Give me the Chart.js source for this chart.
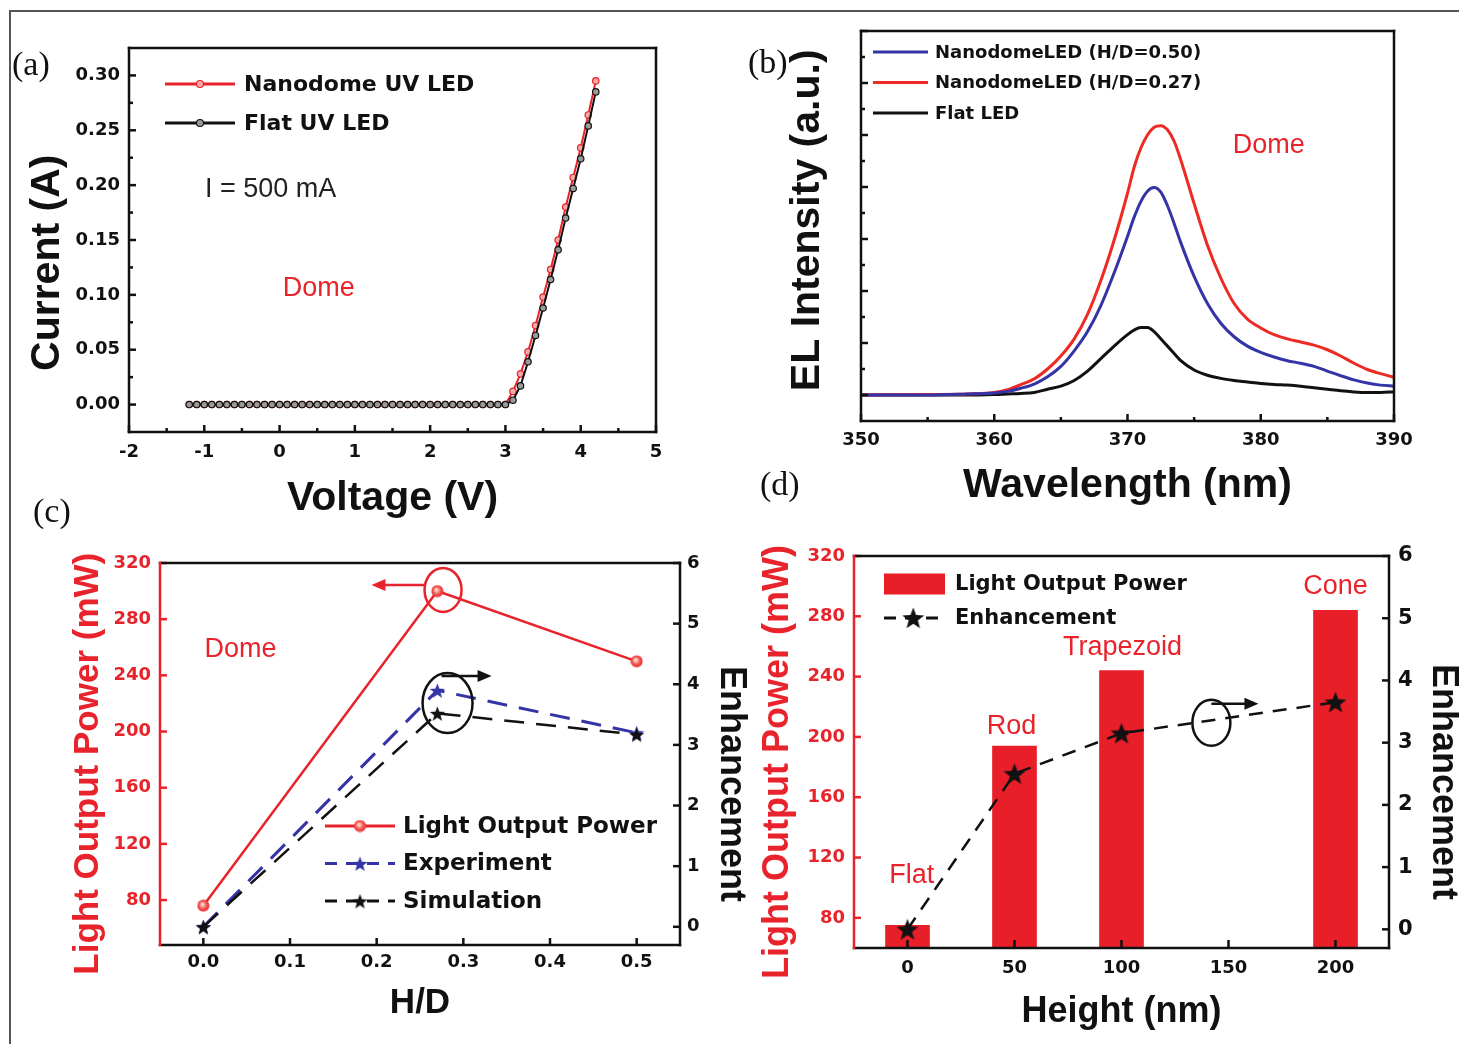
<!DOCTYPE html>
<html>
<head>
<meta charset="utf-8">
<script src="https://cdn.jsdelivr.net/npm/chart.js@4.4.1/dist/chart.umd.min.js"></script>
<style>
  html, body { margin: 0; padding: 0; background: #fff; overflow: hidden; }
  body { width: 1459px; height: 1044px; position: relative; }
  canvas { position: absolute; }
  .border { position: absolute; left: 9px; top: 10px; width: 1460px; height: 1040px; border-top: 2px solid #555; border-left: 2px solid #555; }
  .tag { position: absolute; font-family: 'Liberation Serif', serif; font-size: 34px; line-height: 34px; color: #111; }
</style>
</head>
<body>
<div class="border"></div>
<canvas id="chartA" width="700" height="510" style="left:10px;top:11px"></canvas>
<canvas id="chartB" width="729" height="510" style="left:730px;top:11px"></canvas>
<canvas id="chartC" width="740" height="519" style="left:10px;top:525px"></canvas>
<canvas id="chartD" width="709" height="519" style="left:750px;top:525px"></canvas>
<div class="tag" style="left:12px;top:47px">(a)</div>
<div class="tag" style="left:748px;top:45px">(b)</div>
<div class="tag" style="left:33px;top:494px">(c)</div>
<div class="tag" style="left:760px;top:467px">(d)</div>
<script>
// (a) I-V curves
const volts = [-1.2, -1.1, -1.0, -0.9, -0.8, -0.7, -0.6, -0.5, -0.4, -0.3, -0.2, -0.1, 0, 0.1, 0.2, 0.3, 0.4, 0.5, 0.6, 0.7, 0.8, 0.9,
  1.0, 1.1, 1.2, 1.3, 1.4, 1.5, 1.6, 1.7, 1.8, 1.9, 2.0, 2.1, 2.2, 2.3, 2.4, 2.5, 2.6, 2.7, 2.8, 2.9, 3.0,
  3.1, 3.2, 3.3, 3.4, 3.5, 3.6, 3.7, 3.8, 3.9, 4.0, 4.1, 4.2];
const currentDome = [0, 0, 0, 0, 0, 0, 0, 0, 0, 0, 0, 0, 0, 0, 0, 0, 0, 0, 0, 0, 0, 0,
  0, 0, 0, 0, 0, 0, 0, 0, 0, 0, 0, 0, 0, 0, 0, 0, 0, 0, 0, 0, 0,
  0.012, 0.028, 0.048, 0.072, 0.098, 0.123, 0.150, 0.180, 0.207, 0.234, 0.264, 0.295];
const currentFlat = [0, 0, 0, 0, 0, 0, 0, 0, 0, 0, 0, 0, 0, 0, 0, 0, 0, 0, 0, 0, 0, 0,
  0, 0, 0, 0, 0, 0, 0, 0, 0, 0, 0, 0, 0, 0, 0, 0, 0, 0, 0, 0, 0,
  0.004, 0.017, 0.039, 0.063, 0.088, 0.114, 0.141, 0.170, 0.197, 0.224, 0.254, 0.285];
const aTicksX = [-2, -1, 0, 1, 2, 3, 4, 5];
const aTicksY = [0, 0.05, 0.10, 0.15, 0.20, 0.25, 0.30];

// (b) EL spectra
const wl = [350, 355, 358, 360, 361, 362, 363, 364, 365, 366, 367, 368, 369, 370,
  370.5, 371, 371.5, 372, 372.5, 373, 373.5, 374,
  375, 376, 377, 378, 379, 380, 381, 382, 383, 384, 385, 386, 387, 388, 389, 390];
const elDome050 = [0, 0, 0.02, 0.04, 0.07, 0.13, 0.21, 0.35, 0.55, 0.85, 1.22, 1.72, 2.35, 3.05,
  3.42, 3.72, 3.92, 3.99, 3.9, 3.64, 3.3, 2.93,
  2.28, 1.76, 1.38, 1.12, 0.94, 0.82, 0.73, 0.66, 0.61, 0.55, 0.46, 0.37, 0.29, 0.23, 0.19, 0.17];
const elDome027 = [0, 0.01, 0.02, 0.05, 0.1, 0.2, 0.31, 0.5, 0.75, 1.08, 1.55, 2.2, 2.98, 3.88,
  4.38, 4.75, 5.0, 5.15, 5.18, 5.1, 4.88, 4.52,
  3.68, 2.88, 2.25, 1.76, 1.46, 1.29, 1.16, 1.08, 1.02, 0.96, 0.87, 0.75, 0.61, 0.49, 0.41, 0.34];
const elFlat = [0, 0, 0, 0.01, 0.02, 0.03, 0.05, 0.11, 0.17, 0.28, 0.46, 0.7, 0.94, 1.16,
  1.25, 1.3, 1.3, 1.22, 1.08, 0.94, 0.8, 0.66,
  0.48, 0.38, 0.32, 0.28, 0.25, 0.22, 0.2, 0.19, 0.17, 0.14, 0.11, 0.08, 0.06, 0.05, 0.05, 0.06];
const bTicksX = [350, 360, 370, 380, 390];
const bTicksY = [0, 1, 2, 3, 4, 5, 6, 7];

// (c) H/D dependence
const hd = [0, 0.27, 0.5];
const lopDome = [76, 300, 250];
const enhExperiment = [0, 3.9, 3.2];
const enhSimulation = [0, 3.52, 3.17];
const cTicksX = [0, 0.1, 0.2, 0.3, 0.4, 0.5];

// (d) shape dependence
const heights = [0, 50, 100, 200];
const shapeNames = ['Flat', 'Rod', 'Trapezoid', 'Cone'];
const lopShape = [75, 194, 244, 284];
const enhShape = [0, 2.5, 3.15, 3.65];
const dTicksX = [0, 50, 100, 150, 200];

const powerTicks = [80, 120, 160, 200, 240, 280, 320];
const enhTicks = [0, 1, 2, 3, 4, 5, 6];

const RED = '#e8232b';
const BLUE = '#3434a6';
const INK = '#111111';
const TICK = { family: 'DejaVu Sans', size: 18, weight: 'bold' };
const titleFont = size => ({ family: 'Liberation Sans', size: size, weight: 'bold', lineHeight: 1.2 });
const noteFont = '27px "Liberation Sans"';

const pts = (xs, ys) => xs.map((x, i) => ({ x: x, y: ys[i] }));
const useTicks = arr => s => { s.ticks = arr.map(v => ({ value: v })); };
const fixW = w => s => { s.width = w; };
const fixH = h => s => { s.height = h; };

function starImage(size, fill) {
  const c = document.createElement('canvas');
  c.width = c.height = size;
  const g = c.getContext('2d');
  const r = size / 2 - 0.5, ri = r * 0.42, cx = size / 2, cy = size / 2 + 1;
  g.beginPath();
  for (let i = 0; i < 10; i++) {
    const a = -Math.PI / 2 + i * Math.PI / 5;
    const rr = i % 2 ? ri : r;
    g.lineTo(cx + rr * Math.cos(a), cy + rr * Math.sin(a));
  }
  g.closePath();
  g.fillStyle = fill;
  g.fill();
  return c;
}

function dotImage(size) {
  const c = document.createElement('canvas');
  c.width = c.height = size;
  const g = c.getContext('2d');
  const grad = g.createRadialGradient(size * 0.42, size * 0.4, 1, size / 2, size / 2, size / 2);
  grad.addColorStop(0, '#ffd0c8');
  grad.addColorStop(0.5, '#f05a50');
  grad.addColorStop(1, RED);
  g.beginPath();
  g.arc(size / 2, size / 2, size / 2 - 0.5, 0, Math.PI * 2);
  g.fillStyle = grad;
  g.fill();
  return c;
}

const starBlue = starImage(17, BLUE);
const starBlack = starImage(17, INK);
const starBig = starImage(24, INK);
const redDot = dotImage(13);

// box lines plus inward tick marks
const framePlugin = o => ({
  id: 'frame',
  afterDatasetsDraw(chart) {
    const ctx = chart.ctx, a = chart.chartArea;
    ctx.save();
    ctx.lineWidth = o.width || 2.5;
    (o.marks || []).forEach(m => {
      const sc = chart.scales[m.scale];
      const vals = sc.ticks.map(t => t.value);
      const minor = [];
      if (m.minor) for (let i = 0; i + 1 < vals.length; i++) minor.push((vals[i] + vals[i + 1]) / 2);
      ctx.strokeStyle = m.color || INK;
      const tick = (v, len) => {
        const p = sc.getPixelForValue(v);
        ctx.beginPath();
        if (m.side === 'bottom') { ctx.moveTo(p, a.bottom); ctx.lineTo(p, a.bottom - len); }
        else if (m.side === 'left') { ctx.moveTo(a.left, p); ctx.lineTo(a.left + len, p); }
        else { ctx.moveTo(a.right, p); ctx.lineTo(a.right - len, p); }
        ctx.stroke();
      };
      vals.forEach(v => tick(v, m.len));
      minor.forEach(v => tick(v, m.minorLen || m.len / 2));
    });
    const s = o.sides;
    ctx.lineCap = 'square';
    const edge = (c, x0, y0, x1, y1) => {
      ctx.strokeStyle = c;
      ctx.beginPath(); ctx.moveTo(x0, y0); ctx.lineTo(x1, y1); ctx.stroke();
    };
    edge(s.top, a.left, a.top, a.right, a.top);
    edge(s.bottom, a.left, a.bottom, a.right, a.bottom);
    edge(s.right, a.right, a.top, a.right, a.bottom);
    edge(s.left, a.left, a.top, a.left, a.bottom);
    ctx.restore();
  }
});

// legend drawn inside the plot box
const keyPlugin = o => ({
  id: 'key',
  afterDatasetsDraw(chart) {
    const ctx = chart.ctx, a = chart.chartArea;
    ctx.save();
    ctx.textBaseline = 'middle';
    o.items.forEach((it, i) => {
      const x0 = a.left + o.x, y = a.top + o.y + i * o.gap, x1 = x0 + o.len;
      if (it.box) {
        ctx.fillStyle = it.color;
        ctx.fillRect(x0, y - it.box / 2, o.len, it.box);
      } else {
        ctx.strokeStyle = it.color;
        ctx.lineWidth = it.width || 2.5;
        ctx.setLineDash(it.dash || []);
        ctx.beginPath(); ctx.moveTo(x0, y); ctx.lineTo(x1, y); ctx.stroke();
        ctx.setLineDash([]);
      }
      const mx = x0 + o.len * (typeof it.at === 'number' ? it.at : 0.5);
      if (it.image) {
        ctx.drawImage(it.image, mx - it.image.width / 2, y - it.image.height / 2);
      } else if (it.dot) {
        ctx.beginPath();
        ctx.arc(mx, y, it.dot, 0, Math.PI * 2);
        ctx.fillStyle = it.fill;
        ctx.fill();
        ctx.lineWidth = 1.2;
        ctx.strokeStyle = it.color;
        ctx.stroke();
      }
      ctx.font = o.font;
      ctx.fillStyle = INK;
      ctx.textAlign = 'left';
      ctx.fillText(it.text, x1 + o.textGap, y + 1);
    });
    ctx.restore();
  }
});

// free text and ring-with-arrow markers
const notesPlugin = o => ({
  id: 'notes',
  afterDatasetsDraw(chart) {
    const ctx = chart.ctx, xs = chart.scales.x;
    ctx.save();
    (o.rings || []).forEach(r => {
      const cx = xs.getPixelForValue(r.x), cy = chart.scales[r.axis].getPixelForValue(r.y);
      ctx.strokeStyle = r.color;
      ctx.fillStyle = r.color;
      ctx.lineWidth = 2.5;
      ctx.beginPath(); ctx.ellipse(cx, cy, r.rx, r.ry, 0, 0, Math.PI * 2); ctx.stroke();
      const ay = cy + r.ay, sx = cx + r.ax, ex = xs.getPixelForValue(r.to);
      const dir = Math.sign(ex - sx);
      ctx.beginPath(); ctx.moveTo(sx, ay); ctx.lineTo(ex - dir * 10, ay); ctx.stroke();
      ctx.beginPath();
      ctx.moveTo(ex, ay); ctx.lineTo(ex - dir * 14, ay - 6); ctx.lineTo(ex - dir * 14, ay + 6);
      ctx.closePath(); ctx.fill();
    });
    (o.texts || []).forEach(t => {
      ctx.font = noteFont;
      ctx.fillStyle = t.color;
      ctx.textAlign = 'center';
      ctx.textBaseline = 'middle';
      ctx.fillText(t.text, xs.getPixelForValue(t.x), chart.scales[t.axis || 'y'].getPixelForValue(t.y));
    });
    ctx.restore();
  }
});

const common = { responsive: false, animation: false, events: [], devicePixelRatio: 1 };
const noGrid = { grid: { display: false, drawTicks: false }, border: { display: false } };
const quiet = { legend: { display: false }, tooltip: { enabled: false } };

// (a)
new Chart(document.getElementById('chartA'), {
  type: 'line',
  data: {
    datasets: [
      { label: 'Nanodome UV LED', data: pts(volts, currentDome), borderColor: RED, borderWidth: 2,
        pointRadius: 3.2, pointBackgroundColor: '#f6aaa6', pointBorderColor: RED, pointBorderWidth: 1.2, order: 1 },
      { label: 'Flat UV LED', data: pts(volts, currentFlat), borderColor: INK, borderWidth: 2,
        pointRadius: 3.2, pointBackgroundColor: '#9a9a9a', pointBorderColor: INK, pointBorderWidth: 1.2, order: 0 }
    ]
  },
  options: Object.assign({}, common, {
    layout: { padding: { left: 0, top: 37, right: 54, bottom: 0 } },
    scales: {
      x: Object.assign({ type: 'linear', min: -2, max: 5, afterFit: fixH(89), afterBuildTicks: useTicks(aTicksX),
        ticks: { font: TICK, color: INK, padding: 10, maxRotation: 0, autoSkip: false, callback: v => String(v) },
        title: { display: true, text: 'Voltage (V)', font: titleFont(41), color: INK, padding: { top: 0, bottom: -2 } } }, noGrid),
      y: Object.assign({ min: -0.025, max: 0.325, afterFit: fixW(119), afterBuildTicks: useTicks(aTicksY),
        ticks: { font: TICK, color: INK, padding: 9, autoSkip: false, callback: v => v.toFixed(2) },
        title: { display: true, text: 'Current (A)    ', font: titleFont(41), color: INK, padding: { top: 13, bottom: 0 } } }, noGrid)
    },
    plugins: quiet
  }),
  plugins: [
    framePlugin({ width: 2.5, sides: { top: INK, bottom: INK, left: INK, right: INK },
      marks: [{ scale: 'x', side: 'bottom', len: 7, minor: true, minorLen: 4 },
              { scale: 'y', side: 'left', len: 7, minor: true, minorLen: 4 }] }),
    keyPlugin({ x: 36, y: 36, gap: 39, len: 70, textGap: 9, font: 'bold 22px "DejaVu Sans"',
      items: [{ text: 'Nanodome UV LED', color: RED, width: 3, dot: 3.5, fill: '#f6aaa6' },
              { text: 'Flat UV LED', color: INK, width: 3, dot: 3.5, fill: '#9a9a9a' }] }),
    notesPlugin({ texts: [{ text: 'I = 500 mA', x: -0.12, y: 0.196, color: '#222' },
                          { text: 'Dome', x: 0.52, y: 0.106, color: RED }] })
  ]
});

// (b)
const spectrum = (label, ys, color) => ({ label: label, data: pts(wl, ys), borderColor: color, borderWidth: 3,
  pointRadius: 0, cubicInterpolationMode: 'monotone' });
new Chart(document.getElementById('chartB'), {
  type: 'line',
  data: {
    datasets: [
      spectrum('NanodomeLED (H/D=0.50)', elDome050, BLUE),
      spectrum('NanodomeLED (H/D=0.27)', elDome027, '#ee2a24'),
      spectrum('Flat LED', elFlat, INK)
    ]
  },
  options: Object.assign({}, common, {
    layout: { padding: { left: 0, top: 20, right: 65, bottom: 0 } },
    scales: {
      x: Object.assign({ type: 'linear', min: 350, max: 390, afterFit: fixH(100), afterBuildTicks: useTicks(bTicksX),
        ticks: { font: TICK, color: INK, padding: 9, maxRotation: 0, autoSkip: false, callback: v => String(v) },
        title: { display: true, text: 'Wavelength (nm)', font: titleFont(41), color: INK, padding: { top: 0, bottom: 11 } } }, noGrid),
      y: Object.assign({ min: -0.5, max: 7, afterFit: fixW(131), afterBuildTicks: useTicks(bTicksY),
        ticks: { display: false },
        title: { display: true, text: ' EL Intensity (a.u.)', font: titleFont(41), color: INK, padding: { top: 53, bottom: 0 } } }, noGrid)
    },
    plugins: quiet
  }),
  plugins: [
    framePlugin({ width: 2.5, sides: { top: INK, bottom: INK, left: INK, right: INK },
      marks: [{ scale: 'x', side: 'bottom', len: 7, minor: true, minorLen: 4 },
              { scale: 'y', side: 'left', len: 7, minor: true, minorLen: 4 }] }),
    keyPlugin({ x: 12, y: 21, gap: 30.5, len: 55, textGap: 7, font: 'bold 18px "DejaVu Sans"',
      items: [{ text: 'NanodomeLED (H/D=0.50)', color: BLUE, width: 3 },
              { text: 'NanodomeLED (H/D=0.27)', color: '#ee2a24', width: 3 },
              { text: 'Flat LED', color: INK, width: 3 }] }),
    notesPlugin({ texts: [{ text: 'Dome', x: 380.6, y: 4.79, color: RED }] })
  ]
});

// (c)
new Chart(document.getElementById('chartC'), {
  type: 'line',
  data: {
    datasets: [
      { label: 'Light Output Power', data: pts(hd, lopDome), yAxisID: 'y', borderColor: RED, borderWidth: 2.5,
        pointStyle: redDot, pointRadius: 7, order: 0 },
      { label: 'Experiment', data: pts(hd, enhExperiment), yAxisID: 'y2', borderColor: BLUE, borderWidth: 3,
        borderDash: [20, 12], pointStyle: starBlue, pointRadius: 8, order: 2 },
      { label: 'Simulation', data: pts(hd, enhSimulation), yAxisID: 'y2', borderColor: INK, borderWidth: 2.5,
        borderDash: [20, 12], pointStyle: starBlack, pointRadius: 8, order: 1 }
    ]
  },
  options: Object.assign({}, common, {
    layout: { padding: { left: 0, top: 38, right: 0, bottom: 0 } },
    scales: {
      x: Object.assign({ type: 'linear', min: -0.05, max: 0.55, afterFit: fixH(99), afterBuildTicks: useTicks(cTicksX),
        ticks: { font: TICK, color: INK, padding: 7, maxRotation: 0, autoSkip: false, callback: v => v.toFixed(1) },
        title: { display: true, text: 'H/D', font: titleFont(35), color: INK, padding: { top: 0, bottom: 20 } } }, noGrid),
      y: Object.assign({ position: 'left', min: 48, max: 320, afterFit: fixW(150), afterBuildTicks: useTicks(powerTicks),
        ticks: { font: TICK, color: RED, padding: 9, autoSkip: false },
        title: { display: true, text: 'Light Output Power (mW)  ', font: titleFont(35), color: RED, padding: { top: 57, bottom: 0 } } }, noGrid),
      y2: Object.assign({ position: 'right', min: -0.3, max: 6, afterFit: fixW(70), afterBuildTicks: useTicks(enhTicks),
        ticks: { font: TICK, color: INK, padding: 7, autoSkip: false },
        title: { display: true, text: '      Enhancement', font: titleFont(36), color: INK, padding: { top: -3, bottom: 0 } } }, noGrid)
    },
    plugins: quiet
  }),
  plugins: [
    framePlugin({ width: 2.5, sides: { top: INK, bottom: INK, left: RED, right: INK },
      marks: [{ scale: 'x', side: 'bottom', len: 7 },
              { scale: 'y', side: 'left', len: 7, color: RED },
              { scale: 'y2', side: 'right', len: 7 }] }),
    keyPlugin({ x: 165, y: 263, gap: 37.5, len: 70, textGap: 8, font: 'bold 23px "DejaVu Sans"',
      items: [{ text: 'Light Output Power', color: RED, width: 3, image: redDot },
              { text: 'Experiment', color: BLUE, width: 3, dash: [12, 9], image: starBlue },
              { text: 'Simulation', color: INK, width: 3, dash: [12, 9], image: starBlack }] }),
    notesPlugin({
      rings: [{ x: 0.2766, y: 300.8, axis: 'y', rx: 18.5, ry: 22, color: RED, ax: -17, ay: -5, to: 0.194 },
              { x: 0.2818, y: 3.69, axis: 'y2', rx: 25, ry: 30, color: INK, ax: -6, ay: -27, to: 0.3326 }],
      texts: [{ text: 'Dome', x: 0.043, y: 258.7, color: RED }]
    })
  ]
});

// (d)
new Chart(document.getElementById('chartD'), {
  type: 'bar',
  data: {
    datasets: [
      { type: 'line', label: 'Enhancement', data: pts(heights, enhShape), yAxisID: 'y2', borderColor: INK, borderWidth: 2.5,
        borderDash: [14, 10], pointStyle: starBig, pointRadius: 10, order: 0 },
      { type: 'bar', label: 'Light Output Power', data: pts(heights, lopShape), yAxisID: 'y', backgroundColor: '#e81f28',
        barThickness: 44, order: 1 }
    ]
  },
  options: Object.assign({}, common, {
    layout: { padding: { left: 0, top: 31, right: 0, bottom: 0 } },
    scales: {
      x: Object.assign({ type: 'linear', offset: false, min: -25, max: 225, afterFit: fixH(96), afterBuildTicks: useTicks(dTicksX),
        ticks: { font: TICK, color: INK, padding: 10, maxRotation: 0, autoSkip: false, callback: v => String(v) },
        title: { display: true, text: 'Height (nm)', font: titleFont(36), color: INK, padding: { top: 0, bottom: 10 } } }, noGrid),
      y: Object.assign({ position: 'left', min: 60, max: 320, afterFit: fixW(104), afterBuildTicks: useTicks(powerTicks),
        ticks: { font: TICK, color: RED, padding: 9, autoSkip: false },
        title: { display: true, text: 'Light Output Power (mW)  ', font: titleFont(36), color: RED, padding: { top: 6, bottom: 0 } } }, noGrid),
      y2: Object.assign({ position: 'right', min: -0.3, max: 6, afterFit: fixW(70), afterBuildTicks: useTicks(enhTicks),
        ticks: { font: { family: 'DejaVu Sans', size: 21, weight: 'bold' }, color: INK, padding: 9, autoSkip: false },
        title: { display: true, text: '      Enhancement', font: titleFont(36), color: INK, padding: { top: -6, bottom: 0 } } }, noGrid)
    },
    plugins: quiet
  }),
  plugins: [
    framePlugin({ width: 2.5, sides: { top: INK, bottom: INK, left: RED, right: INK },
      marks: [{ scale: 'x', side: 'bottom', len: 8 },
              { scale: 'y', side: 'left', len: 7, color: RED },
              { scale: 'y2', side: 'right', len: 7 }] }),
    keyPlugin({ x: 30, y: 28, gap: 34, len: 61, textGap: 10, font: 'bold 21px "DejaVu Sans"',
      items: [{ text: 'Light Output Power', color: '#e81f28', box: 21 },
              { text: 'Enhancement', color: INK, width: 3, dash: [12, 9], image: starBig, at: 0.48 }] }),
    notesPlugin({
      rings: [{ x: 142, y: 3.32, axis: 'y2', rx: 19, ry: 23, color: INK, ax: 0, ay: -19, to: 164 }],
      texts: [{ text: shapeNames[0], x: 2, y: 108, color: RED },
              { text: shapeNames[1], x: 48.6, y: 207, color: RED },
              { text: shapeNames[2], x: 100.5, y: 259, color: RED },
              { text: shapeNames[3], x: 200, y: 299.5, color: RED }]
    })
  ]
});
</script>
</body>
</html>
